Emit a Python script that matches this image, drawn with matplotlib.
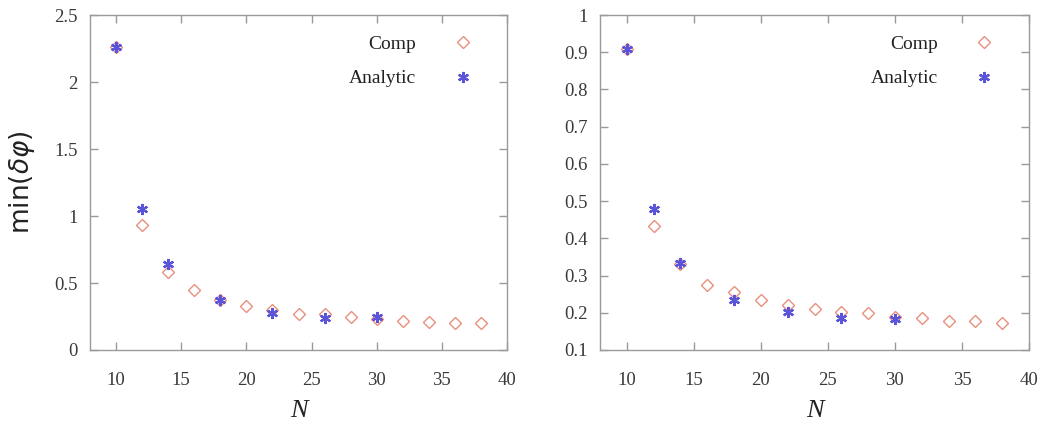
import matplotlib
matplotlib.use("Agg")
import matplotlib.pyplot as plt

# Comp / Analytic minimum phase spacing versus N, two configurations
n_comp = [10, 12, 14, 16, 18, 20, 22, 24, 26, 28, 30, 32, 34, 36, 38]
n_analytic = [10, 12, 14, 18, 22, 26, 30]

left_comp = [2.26, 0.93, 0.58, 0.45, 0.37, 0.325, 0.30, 0.27, 0.27, 0.25, 0.235, 0.22, 0.212, 0.205, 0.20]
left_analytic = [2.26, 1.05, 0.645, 0.37, 0.275, 0.238, 0.25]

right_comp = [0.91, 0.434, 0.332, 0.274, 0.255, 0.233, 0.222, 0.209, 0.203, 0.20, 0.188, 0.187, 0.178, 0.178, 0.173]
right_analytic = [0.91, 0.48, 0.334, 0.234, 0.202, 0.187, 0.184]

left_yticks = [0, 0.5, 1, 1.5, 2, 2.5]
left_yticklabels = ["0", "0.5", "1", "1.5", "2", "2.5"]
right_yticks = [0.1, 0.2, 0.3, 0.4, 0.5, 0.6, 0.7, 0.8, 0.9, 1.0]
right_yticklabels = ["0.1", "0.2", "0.3", "0.4", "0.5", "0.6", "0.7", "0.8", "0.9", "1"]
xticks = [10, 15, 20, 25, 30, 35, 40]

comp_color = "#e8907e"
analytic_color = "#5a55d8"
frame_color = "#9a9a9a"
text_color = "#3a3a3a"
serif = ["Liberation Serif", "DejaVu Serif"]

plt.rcParams["mathtext.fontset"] = "dejavusans"

fig = plt.figure(figsize=(10.47, 4.32), dpi=100)
ax_l = fig.add_axes([90 / 1047, 82 / 432, 417 / 1047, 335 / 432])
ax_r = fig.add_axes([600 / 1047, 82 / 432, 429 / 1047, 335 / 432])


def style(ax, yticks, yticklabels, ylim):
    ax.set_xlim(8, 40)
    ax.set_ylim(*ylim)
    ax.set_xticks(xticks)
    ax.set_xticklabels([str(t) for t in xticks], family=serif, fontsize=13.5, color=text_color)
    ax.set_yticks(yticks)
    ax.set_yticklabels(yticklabels, family=serif, fontsize=13.5, color=text_color)
    ax.tick_params(direction="in", length=6, width=1.0, color=frame_color,
                   top=True, right=True)
    ax.tick_params(axis="x", pad=16)
    ax.tick_params(axis="y", pad=9)
    for s in ax.spines.values():
        s.set_color(frame_color)
        s.set_linewidth(1.0)
    ax.set_xlabel("N", fontsize=19, color="#222222", labelpad=8,
                  family=serif, style="italic")


def draw(ax, comp, analytic):
    ax.plot(n_comp, comp, linestyle="none", marker="D", markersize=6,
            markerfacecolor="none", markeredgecolor=comp_color,
            markeredgewidth=1.0, label="Comp")
    ax.plot(n_analytic, analytic, linestyle="none", marker=(6, 2, 0), markersize=8,
            color=analytic_color, markeredgewidth=1.6, label="Analytic")
    leg = ax.legend(loc="upper right", frameon=False, markerfirst=False,
                    prop={"family": serif, "size": 14}, handlelength=1.0,
                    handletextpad=1.9, labelspacing=0.85, borderaxespad=0.6,
                    borderpad=0.2, numpoints=1)
    leg.set_bbox_to_anchor((0.955, 0.985), transform=ax.transAxes)
    for t in leg.get_texts():
        t.set_color("#222222")


draw(ax_l, left_comp, left_analytic)
style(ax_l, left_yticks, left_yticklabels, (0, 2.5))
ax_l.set_ylabel(r"min($\delta\varphi$)", fontsize=19, color="#222222",
                family="DejaVu Sans", labelpad=12)

draw(ax_r, right_comp, right_analytic)
style(ax_r, right_yticks, right_yticklabels, (0.1, 1.0))

fig.savefig("out.png", dpi=100, facecolor="white")
